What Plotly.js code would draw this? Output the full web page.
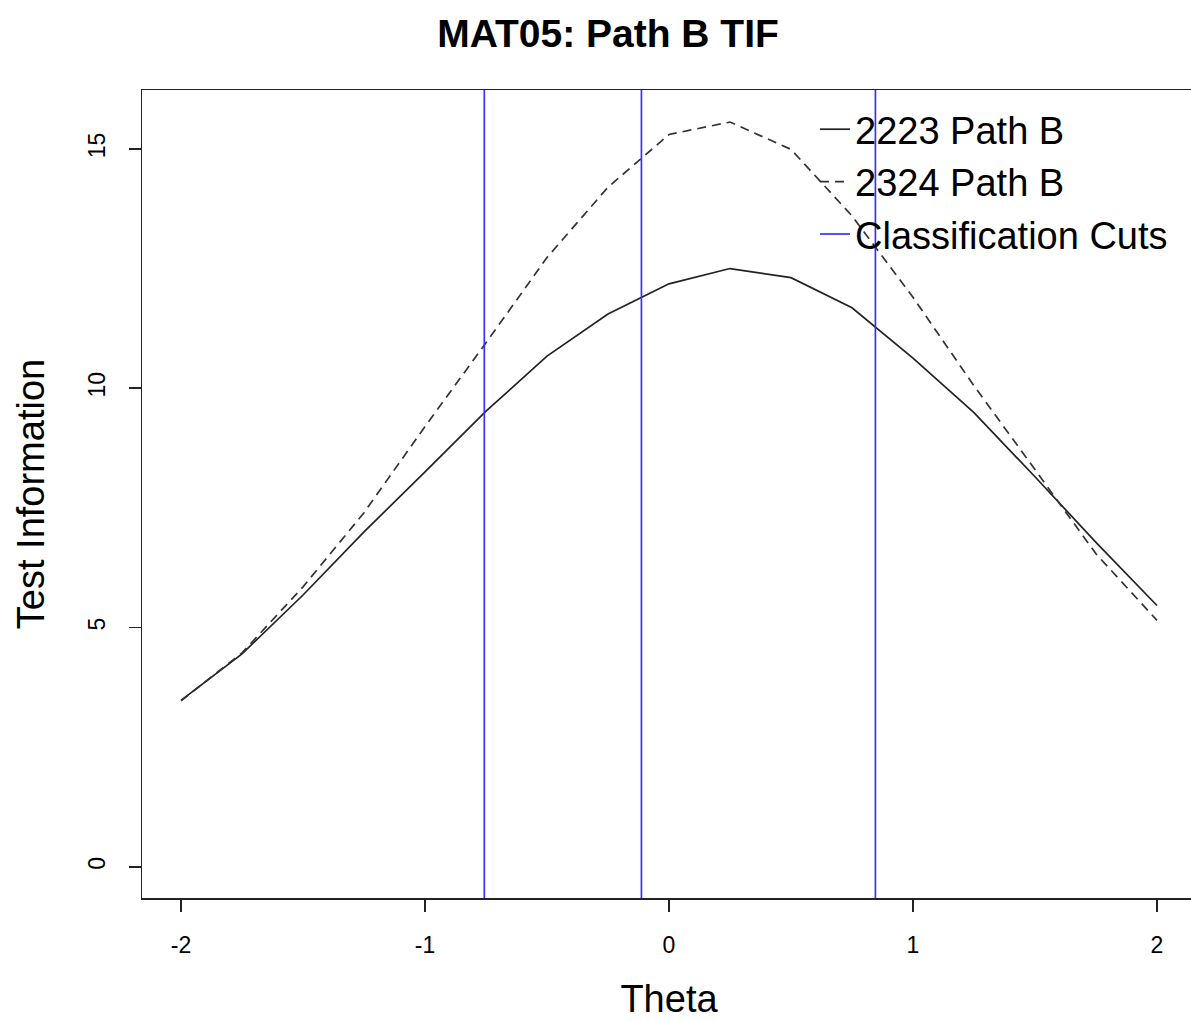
<!DOCTYPE html>
<html>
<head>
<meta charset="utf-8">
<script src="https://cdn.plot.ly/plotly-3.0.1.min.js"></script>
<style>
html,body{margin:0;padding:0;background:#fff;overflow:hidden;width:1191px;height:1021px;}
#chart{width:1200px;height:1021px;}
</style>
</head>
<body>
<div id="chart"></div>
<script>
// Data
const theta = [-2, -1.75, -1.5, -1.25, -1, -0.75, -0.5, -0.25, 0, 0.25, 0.5, 0.75, 1, 1.25, 1.5, 1.75, 2];
const info2223 = [3.48, 4.45, 5.68, 7.0, 8.25, 9.52, 10.67, 11.55, 12.18, 12.5, 12.31, 11.68, 10.63, 9.49, 8.15, 6.78, 5.46];
const info2324 = [3.47, 4.47, 5.85, 7.4, 9.2, 10.95, 12.73, 14.2, 15.3, 15.56, 14.99, 13.6, 11.9, 10.05, 8.3, 6.54, 5.15];
const cuts = [-0.757, -0.113, 0.846];
const seriesNames = ["2223 Path B", "2324 Path B", "Classification Cuts"];
const xRange = [-2.16, 2.16];
const yRange = [-0.65, 16.23];
const xTicks = [-2, -1, 0, 1, 2];
const yTicks = [0, 5, 10, 15];

const cutX = [], cutY = [];
cuts.forEach(c => { cutX.push(c, c, null); cutY.push(yRange[0], yRange[1], null); });

const FONT = "Liberation Sans, Arial, Helvetica, sans-serif";

const traces = [
  {x: theta, y: info2223, type: 'scatter', mode: 'lines', name: seriesNames[0],
   line: {color: '#222', width: 1.7}},
  {x: theta, y: info2324, type: 'scatter', mode: 'lines', name: seriesNames[1],
   line: {color: '#333', width: 1.7, dash: '9px,6px'}},
  {x: cutX, y: cutY, type: 'scatter', mode: 'lines', name: seriesNames[2],
   line: {color: '#3333ff', width: 1.7}, connectgaps: false}
];

const PL = 142, PR = 4, PT = 90, PB = 123, W = 1200, H = 1021;
const pw = W - PL - PR, ph = H - PT - PB;

const layout = {
  width: W, height: H,
  margin: {l: PL, r: PR, t: PT, b: PB, autoexpand: false},
  paper_bgcolor: '#fff', plot_bgcolor: '#fff',
  font: {family: FONT, color: '#000'},
  title: {text: '<b>MAT05: Path B TIF</b>', font: {family: FONT, size: 39, color: '#000'},
          xref: 'container', x: 608/W, xanchor: 'center',
          yref: 'container', y: 1 - 33/H, yanchor: 'middle'},
  xaxis: {range: xRange, tickvals: xTicks, ticktext: xTicks.map(String),
          showgrid: false, zeroline: false, showline: true, mirror: true,
          linecolor: '#222', linewidth: 1.5, ticks: 'outside', ticklen: 12, tickwidth: 1.5,
          tickcolor: '#222', tickfont: {size: 23, family: FONT, color: '#000'},
          ticklabelstandoff: 14,
          title: {text: 'Theta', font: {size: 38, family: FONT, color: '#000'}, standoff: 28}},
  yaxis: {range: yRange, tickvals: yTicks, ticktext: yTicks.map(String),
          showgrid: false, zeroline: false, showline: true, mirror: true,
          linecolor: '#222', linewidth: 1.5, ticks: 'outside', ticklen: 12, tickwidth: 1.5,
          tickcolor: '#222', tickfont: {size: 23, family: FONT, color: '#000'},
          tickangle: -90, ticklabelstandoff: 14,
          title: {text: 'Test Information', font: {size: 38, family: FONT, color: '#000'}, standoff: 28}},
  showlegend: true,
  legend: {x: (815 - PL)/pw, xref: 'paper', y: 1 - (98 - PT)/ph, yref: 'paper',
           xanchor: 'left', yanchor: 'top', bgcolor: 'rgba(0,0,0,0)', borderwidth: 0,
           font: {size: 38, family: FONT, color: '#000'}, itemwidth: 30, tracegroupgap: 0}
};

Plotly.newPlot('chart', traces, layout, {staticPlot: true, displayModeBar: false});
</script>
</body>
</html>
